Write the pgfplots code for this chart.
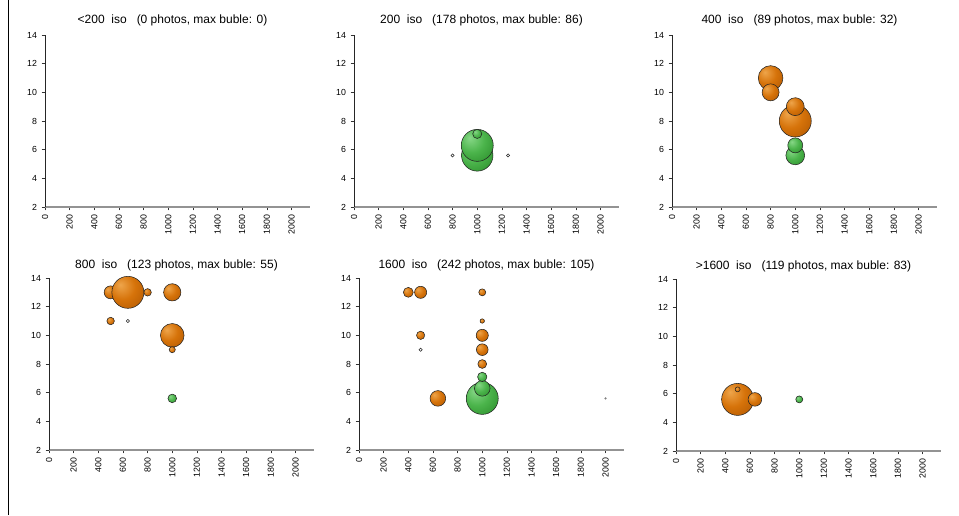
\documentclass[border=0pt]{standalone}
\usepackage{fontspec}
\setmainfont{Liberation Sans}
\usepackage{pgfplots}
\pgfplotsset{compat=1.18}
\usetikzlibrary{plotmarks}

\definecolor{oL}{RGB}{238,165,75}
\definecolor{oM}{RGB}{214,115,10}
\definecolor{oD}{RGB}{172,84,0}
\definecolor{gL}{RGB}{135,215,135}
\definecolor{gM}{RGB}{75,180,75}
\definecolor{gD}{RGB}{38,135,38}
\definecolor{edge}{RGB}{35,35,35}

\pgfdeclareradialshading{oshade}{\pgfpoint{-12bp}{12bp}}{color(0bp)=(oL); color(20bp)=(oM); color(45bp)=(oD); color(75bp)=(oD)}
\pgfdeclareradialshading{gshade}{\pgfpoint{-12bp}{12bp}}{color(0bp)=(gL); color(20bp)=(gM); color(45bp)=(gD); color(75bp)=(gD)}
\pgfdeclareplotmark{oball}{\pgfpathcircle{\pgfpointorigin}{\pgfplotmarksize}\pgfshadepath{oshade}{0}\pgfpathcircle{\pgfpointorigin}{\pgfplotmarksize}\pgfusepath{stroke}}
\pgfdeclareplotmark{gball}{\pgfpathcircle{\pgfpointorigin}{\pgfplotmarksize}\pgfshadepath{gshade}{0}\pgfpathcircle{\pgfpointorigin}{\pgfplotmarksize}\pgfusepath{stroke}}

\pgfplotsset{
  panel/.style={scale only axis, width=198.75pt, height=129pt,
    xmin=0, xmax=2150, ymin=2, ymax=14,
    xtick={0,200,...,2000}, ytick={2,4,...,14},
    axis x line*=bottom, axis y line*=left,
    x axis line style={draw=gray!85, line width=1pt},
    y axis line style={draw=black!85, line width=0.6pt},
    tick align=outside, major tick length=2.5pt,
    every tick/.style={black!80, line width=0.5pt},
    xticklabel style={rotate=90, anchor=east, font=\fontsize{6.6}{7}\selectfont},
    yticklabel style={font=\fontsize{6.6}{7}\selectfont},
    /pgf/number format/assume math mode=true,
    /pgf/number format/1000 sep={},
    every axis title/.style={font=\fontsize{9}{11}\selectfont, at={(0.5,1)}, anchor=center, xshift=-3.75pt, yshift=11.25pt},
    anchor=south west, clip=false},
  lowrow/.style={every axis title/.style={font=\fontsize{9}{11}\selectfont, at={(0.5,1)}, anchor=center, xshift=-3.75pt, yshift=9.75pt}},
  bub/.style={scatter, only marks, mark=#1,
    scatter/use mapped color={draw=edge, fill=white},
    visualization depends on={12*sqrt(\thisrow{n}/\mx) \as \bubr},
    scatter/@pre marker code/.append style={/tikz/mark size=\bubr},
    mark options={line width=0.4pt}},
  hollow/.style={only marks, mark=*, mark size=1.2pt, mark options={draw=edge, fill=white, line width=0.4pt}}
}

\begin{document}
\begin{tikzpicture}
\useasboundingbox (0,0) rectangle (719.25pt,386.25pt);

% <200 iso
\def\mx{1}
\begin{axis}[panel, at={(33.75pt,231pt)}, title={<200\ \ iso\ \ \ (0 photos, max buble: 0)}]
\end{axis}

% 200 iso
\def\mx{86}
\begin{axis}[panel, at={(265.5pt,231pt)}, title={200\ \ iso\ \ \ (178 photos, max buble: 86)}]
\addplot[bub=gball] table[x=x,y=y]{
x y n
1000 5.6 83
1000 6.3 86
1000 7.1 7
};
\addplot[hollow] table[x=x,y=y]{
x y
800 5.6
1250 5.6
};
\end{axis}

% 400 iso
\def\mx{32}
\begin{axis}[panel, at={(504pt,231pt)}, title={400\ \ iso\ \ \ (89 photos, max buble: 32)}]
\addplot[bub=gball] table[x=x,y=y]{
x y n
1000 5.6 11
1000 6.3 7
1000 7.1 1
};
\addplot[bub=oball] table[x=x,y=y]{
x y n
1000 8 32
1000 9 10
800 11 19
800 10 9
};
\end{axis}

% 800 iso
\def\mx{55}
\begin{axis}[panel, lowrow, at={(36.75pt,48.75pt)}, title={800\ \ iso\ \ \ (123 photos, max buble: 55)}]
\addplot[bub=gball] table[x=x,y=y]{
x y n
1000 5.6 4
};
\addplot[bub=oball] table[x=x,y=y]{
x y n
500 13 9
640 13 55
800 13 3
1000 13 16
500 11 3
1000 10 30
1000 9 2
};
\addplot[hollow] table[x=x,y=y]{
x y
640 11
};
\end{axis}

% 1600 iso
\def\mx{105}
\begin{axis}[panel, lowrow, at={(269.25pt,48.75pt)}, title={1600\ \ iso\ \ \ (242 photos, max buble: 105)}]
\addplot[bub=gball] table[x=x,y=y]{
x y n
1000 5.6 105
1000 6.3 25
1000 7.1 9
};
\addplot[bub=oball] table[x=x,y=y]{
x y n
400 13 10
500 13 15
1000 13 5
1000 11 2
500 10 7
1000 10 15
1000 9 14
1000 8 8
640 5.6 25
};
\addplot[hollow] table[x=x,y=y]{
x y
500 9
};
\addplot[only marks, mark=*, mark size=0.6pt, mark options={draw=gray, fill=gray}] table[x=x,y=y]{
x y
2000 5.6
};
\end{axis}

% >1600 iso
\def\mx{83}
\begin{axis}[panel, lowrow, at={(507pt,48pt)}, title={>1600\ \ iso\ \ \ (119 photos, max buble: 83)}]
\addplot[bub=gball] table[x=x,y=y]{
x y n
1000 5.6 4
};
\addplot[bub=oball] table[x=x,y=y]{
x y n
500 5.6 83
640 5.6 15
500 6.3 2
};
\end{axis}

\draw[black, line width=0.75pt] (6pt,0pt) -- (6pt,386.25pt);
\end{tikzpicture}
\end{document}
